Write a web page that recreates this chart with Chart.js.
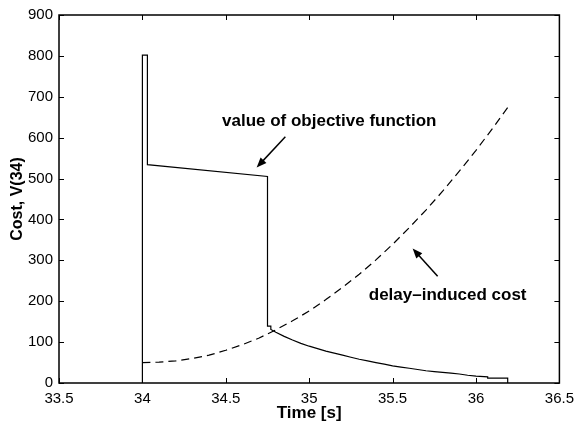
<!DOCTYPE html>
<html lang="en">
  <head>
    <meta charset="UTF-8" />
    <title>Cost, V(34)</title>
    <script src="https://cdn.jsdelivr.net/npm/chart.js"></script>
    <style>
      body {
        margin: 0;
        background: #fff;
      }
      #wrap {
        width: 581px;
        height: 426px;
      }
    </style>
  </head>
  <body>
    <div id="wrap"><canvas id="costChart"></canvas></div>

    <script>
      // value of objective function (solid), jumps are repeated x values
      const objTime = [
        34, 34, 34.03, 34.03, 34.75, 34.75, 34.77, 34.77, 34.8, 34.85, 34.9,
        34.95, 35.0, 35.05, 35.1, 35.15, 35.2, 35.25, 35.3, 35.35, 35.4, 35.45,
        35.5, 35.55, 35.6, 35.65, 35.7, 35.75, 35.8, 35.85, 35.9, 35.95, 36.0,
        36.07, 36.07, 36.19, 36.19,
      ];
      const objValue = [
        0, 802, 802, 534, 505, 139, 139, 131, 124, 114, 105, 97, 90, 84, 78, 73,
        68, 63, 58, 54, 50, 46, 42, 39, 36, 33, 30, 28, 26, 24, 22, 19, 17, 15,
        12, 12, 0,
      ];

      // delay-induced cost (dashed)
      const delayTime = [
        34.0, 34.1, 34.2, 34.3, 34.4, 34.5, 34.6, 34.7, 34.8, 34.9, 35.0, 35.1,
        35.2, 35.3, 35.4, 35.5, 35.6, 35.7, 35.8, 35.9, 36.0, 36.1, 36.19,
      ];
      const delayValue = [
        50, 51, 54, 60, 68, 80, 94, 110, 130, 152, 176, 204, 234, 266, 301, 339,
        380, 423, 469, 518, 569, 623, 674,
      ];

      const xTicks = [33.5, 34, 34.5, 35, 35.5, 36, 36.5];
      const yTicks = [0, 100, 200, 300, 400, 500, 600, 700, 800, 900];

      // annotations: text centre and arrow (from -> tip), in data units
      const notes = [
        { text: "value of objective function", x: 35.12, y: 641, from: [34.857, 602], to: [34.685, 527] },
        { text: "delay\u2013induced cost", x: 35.83, y: 215, from: [35.77, 261], to: [35.62, 329] },
      ];

      const pts = (xs, ys) => xs.map((x, i) => ({ x: x, y: ys[i] }));

      const frameAndNotes = {
        id: "frameAndNotes",
        afterDatasetsDraw(chart) {
          const { ctx, chartArea: a, scales } = chart;
          const sx = scales.x, sy = scales.y;
          ctx.save();
          ctx.strokeStyle = "#000";
          ctx.lineWidth = 1.5;
          ctx.strokeRect(a.left, a.top, a.right - a.left, a.bottom - a.top);

          // inward ticks on all four sides
          ctx.lineWidth = 1;
          ctx.beginPath();
          xTicks.forEach((v) => {
            const px = Math.round(sx.getPixelForValue(v)) + 0.5;
            ctx.moveTo(px, a.bottom);
            ctx.lineTo(px, a.bottom - 5);
            ctx.moveTo(px, a.top);
            ctx.lineTo(px, a.top + 5);
          });
          yTicks.forEach((v) => {
            const py = Math.round(sy.getPixelForValue(v)) + 0.5;
            ctx.moveTo(a.left, py);
            ctx.lineTo(a.left + 5, py);
            ctx.moveTo(a.right, py);
            ctx.lineTo(a.right - 5, py);
          });
          ctx.stroke();

          // labels with arrows
          ctx.fillStyle = "#000";
          ctx.font = "bold 17px 'Liberation Sans', Arial, sans-serif";
          ctx.textAlign = "center";
          ctx.textBaseline = "middle";
          notes.forEach((n) => {
            ctx.fillText(n.text, sx.getPixelForValue(n.x), sy.getPixelForValue(n.y));
            const x0 = sx.getPixelForValue(n.from[0]), y0 = sy.getPixelForValue(n.from[1]);
            const x1 = sx.getPixelForValue(n.to[0]), y1 = sy.getPixelForValue(n.to[1]);
            const ang = Math.atan2(y1 - y0, x1 - x0);
            ctx.lineWidth = 1.5;
            ctx.beginPath();
            ctx.moveTo(x0, y0);
            ctx.lineTo(x1 - 6 * Math.cos(ang), y1 - 6 * Math.sin(ang));
            ctx.stroke();
            ctx.beginPath();
            ctx.moveTo(x1, y1);
            ctx.lineTo(x1 - 10 * Math.cos(ang) + 4 * Math.sin(ang), y1 - 10 * Math.sin(ang) - 4 * Math.cos(ang));
            ctx.lineTo(x1 - 10 * Math.cos(ang) - 4 * Math.sin(ang), y1 - 10 * Math.sin(ang) + 4 * Math.cos(ang));
            ctx.closePath();
            ctx.fill();
          });
          ctx.restore();
        },
      };

      const tickFont = { family: "'Liberation Sans', Arial, sans-serif", size: 15 };
      const xTitleFont = { family: "'Liberation Sans', Arial, sans-serif", size: 17, weight: "bold" };
      const yTitleFont = { family: "'Liberation Sans', Arial, sans-serif", size: 16, weight: "bold" };

      new Chart(document.getElementById("costChart"), {
        type: "scatter",
        data: {
          datasets: [
            {
              label: "delay-induced cost",
              data: pts(delayTime, delayValue),
              showLine: true,
              borderColor: "#000",
              borderWidth: 1.2,
              borderDash: [8, 5],
              pointRadius: 0,
            },
            {
              label: "value of objective function",
              data: pts(objTime, objValue),
              showLine: true,
              borderColor: "#000",
              borderWidth: 1.2,
              pointRadius: 0,
            },
          ],
        },
        options: {
          responsive: true,
          maintainAspectRatio: false,
          animation: false,
          layout: { padding: { left: 0, right: 16, top: 14, bottom: 0 } },
          plugins: {
            legend: { display: false },
            tooltip: { enabled: false },
          },
          scales: {
            x: {
              type: "linear",
              min: 33.5,
              max: 36.5,
              afterFit: (s) => { s.height = 43; },
              afterBuildTicks: (s) => { s.ticks = xTicks.map((v) => ({ value: v })); },
              grid: { display: false, drawTicks: false },
              border: { display: false },
              ticks: { color: "#000", font: tickFont, padding: 7, maxRotation: 0, callback: (v) => String(v) },
              title: { display: true, text: "Time [s]", color: "#000", font: xTitleFont, padding: { top: 0, bottom: 2 } },
            },
            y: {
              min: 0,
              max: 900,
              afterFit: (s) => { s.width = 59; },
              afterBuildTicks: (s) => { s.ticks = yTicks.map((v) => ({ value: v })); },
              grid: { display: false, drawTicks: false },
              border: { display: false },
              ticks: { color: "#000", font: tickFont, padding: 6 },
              title: { display: true, text: "Cost, V(34)", color: "#000", font: yTitleFont, padding: { top: 8, bottom: 0 } },
            },
          },
        },
        plugins: [frameAndNotes],
      });
    </script>
  </body>
</html>
